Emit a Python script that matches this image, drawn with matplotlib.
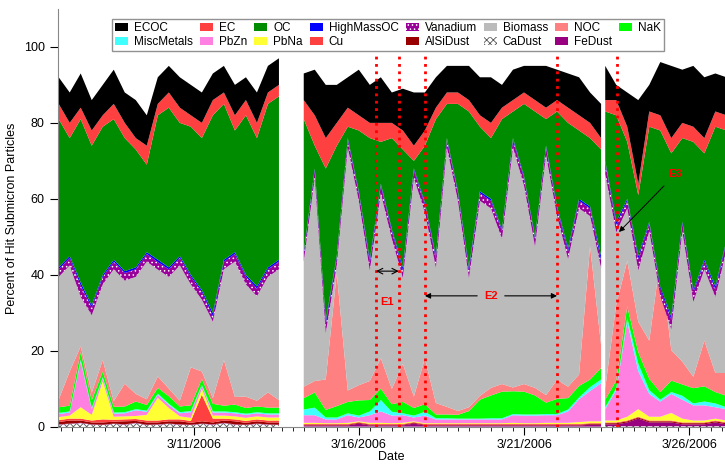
from datetime import datetime, timedelta

import matplotlib
matplotlib.use('Agg')
import matplotlib.dates as mdates
import matplotlib.pyplot as plt
import numpy as np
from matplotlib.patches import Patch

plt.rcParams['font.family'] = ['Liberation Sans', 'DejaVu Sans']
plt.rcParams['hatch.linewidth'] = 0.6

# three sampling segments, 8 h steps
seg_starts = [datetime(2006, 3, 6, 22), datetime(2006, 3, 14, 8), datetime(2006, 3, 23, 11)]
seg_lens = [21, 28, 12]

# levels (percent)
total = [92, 88, 93, 86, 90, 94, 88, 86, 82, 92, 95, 92, 90, 88, 93, 95, 90, 92, 88, 95, 97,
         93, 94, 90, 90, 92, 94, 90, 92, 88, 89, 88, 88, 92, 95, 95, 95, 92, 92, 90, 94, 95, 95, 95, 94, 93, 92, 88, 85,
         95, 90, 88, 86, 90, 96, 95, 94, 95, 92, 93, 92]
ec_top = [85, 80, 84, 78, 82, 85, 80, 76, 74, 85, 88, 84, 82, 80, 86, 88, 82, 86, 80, 88, 90,
          86, 82, 76, 80, 84, 82, 80, 80, 80, 78, 74, 78, 84, 88, 88, 86, 82, 80, 84, 86, 88, 86, 84, 86, 84, 82, 80, 76,
          86, 86, 79, 64, 83, 82, 76, 80, 79, 76, 83, 82]
ec = [4, 4, 3, 4, 3, 4, 4, 3, 5, 3, 4, 4, 3, 4, 4, 3, 4, 4, 4, 3, 3,
      5, 8, 8, 6, 5, 4, 4, 5, 4, 5, 4, 4, 3, 3, 3, 3, 3, 4, 3, 3, 3, 3, 3, 3, 4, 4, 4, 3,
      3, 4, 4, 3, 4, 4, 4, 4, 4, 4, 4, 4]
oc_bottom = [42, 45, 38, 32, 40, 44, 41, 42, 46, 44, 42, 45, 40, 36, 30, 44, 46, 40, 37, 42, 44,
             46, 68, 28, 45, 76, 62, 44, 64, 52, 42, 68, 59, 45, 76, 62, 42, 62, 60, 52, 76, 66, 50, 74, 58, 47, 60, 58, 45,
             70, 54, 60, 45, 54, 37, 29, 54, 36, 44, 37, 49]
vanadium = [2, 2, 3, 2, 2, 2, 2, 2, 2, 2, 2, 2, 2, 2, 1.5, 2, 2, 2, 2, 2, 2,
            2, 2, 2.5, 2, 2, 2, 2, 2, 2, 2, 2, 2, 2.5, 2, 2, 2, 2, 2, 2, 2, 2, 2, 2, 2, 2, 2, 2, 2,
            3, 2, 2, 3, 2, 2, 2.5, 2, 2.5, 2, 2, 2]
highmassoc = [0.5, 0.5, 0.8, 0.6, 0.5, 0.5, 0.5, 0.5, 0.5, 0.6, 0.5, 0.5, 0.5, 0.5, 0.8, 0.5, 0.5, 0.5, 0.6, 0.5, 0.5,
              0.5, 0.5, 0.8, 0.5, 0.5, 0.5, 0.8, 0.5, 0.5, 0.8, 0.5, 0.5, 0.6, 0.5, 0.5, 0.8, 0.5, 0.5, 0.5, 0.5, 0.5, 0.5, 0.5, 0.5, 0.8, 0.5, 0.5, 1.2,
              0.5, 0.8, 0.5, 0.8, 0.5, 0.6, 0.8, 0.5, 0.6, 0.5, 0.8, 0.5]
noc = [2, 9, 1.5, 2, 3, 1.5, 6, 2, 1.5, 3, 2, 1.5, 10, 2, 1.5, 12, 2, 3, 1.5, 4, 2,
       3, 3, 8, 35, 3, 4, 5, 8, 4, 10, 3, 12, 3, 2, 1, 1, 1, 2, 2, 1, 2, 2, 2, 5, 3, 3, 35, 6,
       3, 20, 12, 8, 10, 35, 8, 6, 3, 12, 5, 6]
nak = [1.5, 1.5, 2, 2, 1.5, 1.5, 1.5, 2, 1.5, 1.5, 2, 1.5, 1.5, 1.5, 2, 1.5, 2, 1.5, 1.5, 1.5, 1.5,
       3, 4, 2, 3, 3, 4, 3, 3, 2, 3, 2, 2, 1, 1, 1, 2, 5, 6, 7, 6, 6, 5, 3, 4, 3, 3, 2, 3,
       2, 2, 3, 3, 3, 2, 3, 3, 4, 4, 3, 3]
miscmetals = [0.3, 0.3, 0.5, 0.3, 0.3, 0.3, 0.3, 0.3, 0.3, 0.3, 0.3, 0.3, 0.3, 0.3, 0.3, 0.3, 0.3, 0.3, 0.3, 0.3, 0.3,
              1.5, 2, 0.5, 0.5, 0.5, 0.5, 1, 3, 1, 0.5, 0.5, 1, 0.3, 0.3, 0.2, 0.2, 0.2, 0.3, 0.3, 0.3, 0.3, 0.3, 0.3, 0.3, 0.5, 0.5, 1, 1,
              0.5, 0.5, 1, 2, 1, 0.5, 0.5, 1, 0.5, 1, 1, 0.5]
pbzn = [0.8, 0.8, 12, 1.5, 0.8, 0.8, 0.8, 1.5, 0.8, 0.8, 0.8, 0.8, 1.5, 0.8, 0.8, 0.8, 0.8, 0.8, 0.8, 0.8, 0.8,
        2, 2, 1, 1, 2, 1, 2, 3, 2, 2, 1, 2, 1, 1, 1, 1, 1, 1, 1, 2, 2, 2, 2, 2, 3, 6, 8, 10,
        3, 8, 25, 10, 6, 4, 5, 5, 4, 4, 3, 3]
pbna = [0.8, 0.8, 3, 1.5, 10, 0.8, 0.8, 0.8, 1.5, 6, 3, 0.8, 0.8, 1.5, 0.8, 0.8, 0.8, 0.8, 0.8, 0.8, 0.8,
        0.3, 0.3, 0.2, 0.2, 0.3, 0.2, 0.3, 0.3, 0.2, 0.3, 0.2, 0.2, 0.2, 0.2, 0.2, 0.2, 0.2, 0.2, 0.2, 0.3, 0.2, 0.2, 0.3, 0.3, 0.3, 0.5, 0.5, 0.5,
        0.5, 0.5, 1, 2, 1, 1, 2, 1, 0.5, 0.5, 0.5, 0.5]
cu = [0.5, 0.5, 0.5, 0.5, 0.8, 0.5, 0.5, 0.5, 0.5, 0.5, 0.5, 0.5, 0.5, 7, 1, 0.5, 0.5, 0.5, 0.5, 0.5, 0.5,
      0.2, 0.2, 0.2, 0.2, 0.2, 0.2, 0.2, 0.2, 0.2, 0.2, 0.2, 0.2, 0.2, 0.2, 0.2, 0.2, 0.2, 0.2, 0.2, 0.2, 0.2, 0.2, 0.2, 0.2, 0.2, 0.2, 0.2, 0.2,
      0.2, 0.2, 0.2, 0.2, 0.2, 0.2, 0.2, 0.2, 0.2, 0.2, 0.2, 0.2]
alsidust = [0.6, 0.8, 0.6, 0.5, 0.6, 0.5, 0.8, 0.5, 0.6, 0.5, 0.6, 0.8, 0.5, 0.6, 0.5, 0.6, 0.8, 0.5, 0.6, 0.5, 0.6,
            0.2, 0.2, 0.2, 0.2, 0.2, 0.2, 0.2, 0.2, 0.2, 0.2, 0.2, 0.2, 0.2, 0.2, 0.2, 0.2, 0.2, 0.2, 0.2, 0.2, 0.2, 0.2, 0.2, 0.2, 0.2, 0.2, 0.2, 0.2,
            0.3, 0.3, 0.3, 0.3, 0.3, 0.3, 0.3, 0.3, 0.3, 0.3, 0.3, 0.3]
cadust = [0.6, 0.8, 1, 0.6, 0.5, 0.8, 0.6, 1, 0.5, 0.6, 0.8, 0.6, 0.5, 0.8, 0.6, 1, 0.6, 0.5, 0.8, 0.6, 0.5,
          0.1, 0.1, 0.1, 0.1, 0.1, 0.1, 0.1, 0.1, 0.1, 0.1, 0.1, 0.1, 0.1, 0.1, 0.1, 0.1, 0.1, 0.1, 0.1, 0.1, 0.1, 0.1, 0.1, 0.1, 0.1, 0.1, 0.1, 0.1,
          0.2, 0.2, 0.2, 0.2, 0.2, 0.2, 0.2, 0.2, 0.2, 0.2, 0.2, 0.2]
fedust = [0.1, 0.1, 0.1, 0.1, 0.1, 0.1, 0.1, 0.1, 0.1, 0.1, 0.1, 0.1, 0.1, 0.1, 0.1, 0.1, 0.1, 0.1, 0.1, 0.1, 0.1,
          0.3, 0.3, 0.3, 0.3, 0.3, 0.8, 0.3, 0.3, 0.3, 0.3, 0.8, 0.3, 0.3, 0.3, 0.3, 0.3, 0.3, 0.3, 0.3, 0.3, 0.3, 0.3, 0.3, 0.3, 0.3, 0.3, 0.5, 0.5,
          0.5, 0.5, 1, 2, 1, 1, 1, 0.5, 0.5, 0.5, 1, 0.5]

events = {'E1': (datetime(2006, 3, 16, 12, 30), datetime(2006, 3, 17, 5)),
          'E2': (datetime(2006, 3, 18, 0), datetime(2006, 3, 22, 0))}
e3_line = datetime(2006, 3, 23, 19, 40)

lower = [cadust, fedust, alsidust, cu, pbna, pbzn, miscmetals, nak, noc]
lower_sum = np.sum(np.array(lower, dtype=float), axis=0)
biomass = np.array(oc_bottom) - np.array(vanadium) - np.array(highmassoc) - lower_sum
oc = np.array(ec_top) - np.array(ec) - np.array(oc_bottom)
ecoc = np.array(total) - np.array(ec_top)

layers = [
    ('CaDust', cadust, 'white', 'xxxxx', '#555555'),
    ('FeDust', fedust, '#990080', None, None),
    ('AlSiDust', alsidust, '#990000', None, None),
    ('Cu', cu, '#ff4040', None, None),
    ('PbNa', pbna, '#ffff33', None, None),
    ('PbZn', pbzn, '#ff80e0', None, None),
    ('MiscMetals', miscmetals, '#40ffff', None, None),
    ('NaK', nak, '#00ff00', None, None),
    ('NOC', noc, '#ff8080', None, None),
    ('Biomass', biomass, '#bbbbbb', None, None),
    ('Vanadium', vanadium, '#990099', '....', 'white'),
    ('HighMassOC', highmassoc, '#0000ff', None, None),
    ('OC', oc, '#008c00', None, None),
    ('EC', ec, '#ff4040', None, None),
    ('ECOC', ecoc, 'black', None, None),
]

fig = plt.figure(figsize=(7.25, 4.66), dpi=100)
ax = fig.add_axes([0.08, 0.0837, 0.92, 0.8973])

i0 = 0
for start, n in zip(seg_starts, seg_lens):
    t = [start + timedelta(hours=8 * k) for k in range(n)]
    base = np.zeros(n)
    for name, vals, color, hatch, ec_col in layers:
        v = np.array(vals[i0:i0 + n], dtype=float)
        ax.fill_between(t, base, base + v, facecolor=color, hatch=hatch,
                        edgecolor=ec_col if hatch else 'none', linewidth=0)
        base = base + v
    i0 += n

# event markers
for name, (t1, t2) in events.items():
    for tt in (t1, t2):
        ax.vlines(tt, 0, 98, colors='red', linestyles=':', linewidth=2)
ax.vlines(e3_line, 0, 98, colors='red', linestyles=':', linewidth=2)

t1, t2 = events['E1']
ax.annotate('', xy=(t1, 41), xytext=(t2, 41),
            arrowprops=dict(arrowstyle='<->', color='black', lw=0.8, shrinkA=0, shrinkB=0))
ax.text(t1 + (t2 - t1) / 2, 33, 'E1', color='red', fontsize=8, fontweight='bold', ha='center', va='center')
t1, t2 = events['E2']
mid = t1 + (t2 - t1) / 2
ax.annotate('', xy=(t1, 34.5), xytext=(mid - timedelta(hours=10), 34.5),
            arrowprops=dict(arrowstyle='-|>', color='black', lw=0.8, shrinkA=0, shrinkB=0, mutation_scale=8))
ax.annotate('', xy=(t2, 34.5), xytext=(mid + timedelta(hours=10), 34.5),
            arrowprops=dict(arrowstyle='-|>', color='black', lw=0.8, shrinkA=0, shrinkB=0, mutation_scale=8))
ax.text(mid, 34.5, 'E2', color='red', fontsize=8, fontweight='bold', ha='center', va='center')
ax.annotate('E3', xy=(datetime(2006, 3, 23, 21), 51.3), xytext=(datetime(2006, 3, 25, 14), 66.5),
            color='red', fontsize=8, fontweight='bold', ha='center', va='center',
            arrowprops=dict(arrowstyle='-|>', color='black', lw=0.7, shrinkA=4, shrinkB=0, mutation_scale=8))

ax.set_xlim(datetime(2006, 3, 6, 21, 30), datetime(2006, 3, 27, 2))
ax.set_ylim(0, 110)
ax.set_yticks([0, 20, 40, 60, 80, 100])
ax.xaxis.set_major_locator(mdates.DayLocator(bymonthday=[11, 16, 21, 26]))
ax.xaxis.set_major_formatter(mdates.DateFormatter('%-m/%-d/%Y'))
ax.xaxis.set_minor_locator(mdates.HourLocator(byhour=[0, 8, 16]))
ax.tick_params(axis='x', which='major', length=6, width=0.8, labelsize=9, pad=3)
ax.tick_params(axis='x', which='minor', length=3, width=0.6)
ax.tick_params(axis='y', length=6, labelsize=9)
for s in ('top', 'right'):
    ax.spines[s].set_visible(False)
for s in ('left', 'bottom'):
    ax.spines[s].set_color('#888888')
ax.set_xlabel('Date', fontsize=9, labelpad=0)
ax.set_ylabel('Percent of Hit Submicron Particles', fontsize=9)

style = {name: (color, hatch, ec_col) for name, vals, color, hatch, ec_col in layers}
order = ['ECOC', 'MiscMetals', 'EC', 'PbZn', 'OC', 'PbNa', 'HighMassOC', 'Cu',
         'Vanadium', 'AlSiDust', 'Biomass', 'CaDust', 'NOC', 'FeDust', 'NaK']
handles = []
for name in order:
    color, hatch, ec_col = style[name]
    handles.append(Patch(facecolor=color, hatch=hatch, edgecolor=ec_col if hatch else color,
                         linewidth=0, label=name))
leg = ax.legend(handles=handles, ncol=8, loc='upper center', bbox_to_anchor=(0.495, 0.975),
                fontsize=8.5, frameon=True, fancybox=False, handlelength=1.1, handleheight=0.7,
                handletextpad=0.5, columnspacing=0.6, borderpad=0.25, labelspacing=0.15,
                borderaxespad=0)
leg.get_frame().set_edgecolor('#777777')
leg.get_frame().set_linewidth(1)

fig.savefig('out.png', dpi=100)
